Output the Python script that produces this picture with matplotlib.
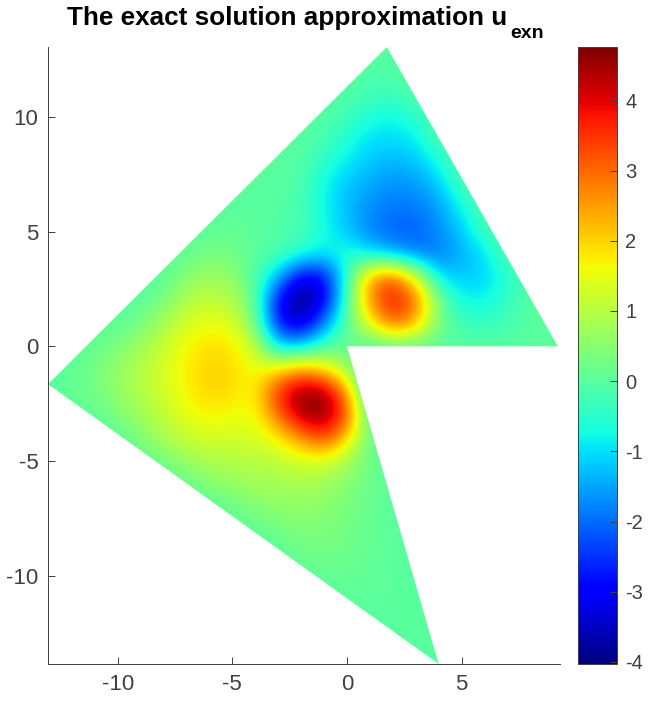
import matplotlib
matplotlib.use('Agg')
import matplotlib.pyplot as plt
import numpy as np
from matplotlib.patches import Polygon

plt.rcParams['font.family'] = ['Liberation Sans', 'DejaVu Sans']
plt.rcParams['axes.unicode_minus'] = False

# domain corners
poly_x = [1.74, 9.2, 0.0, 4.0, -13.04]
poly_y = [13.05, 0.0, 0.0, -13.85, -1.65]

# values on a 1x1 grid
grid_x = np.arange(-13, 10)
grid_y = np.arange(13, -15, -1)
u = [
    #-13  -12  -11  -10   -9   -8   -7   -6   -5   -4   -3   -2   -1    0    1    2    3    4    5    6    7    8    9
    [0.0, 0.0, 0.0, 0.0, 0.0, 0.0, 0.0, 0.0, 0.0, 0.0, 0.0, 0.0, 0.0, 0.0, 0.0, 0.0, 0.0, 0.0, 0.0, 0.0, 0.0, 0.0, 0.0],
    [0.0, 0.0, 0.0, 0.0, 0.0, 0.0, 0.0, 0.0, 0.0, 0.0, 0.0, 0.0, 0.0, 0.0, -.05, -.1, 0.0, 0.0, 0.0, 0.0, 0.0, 0.0, 0.0],
    [0.0, 0.0, 0.0, 0.0, 0.0, 0.0, 0.0, 0.0, 0.0, 0.0, 0.0, 0.0, 0.0, -.05, -.25, -.3, 0.0, 0.0, 0.0, 0.0, 0.0, 0.0, 0.0],
    [0.0, 0.0, 0.0, 0.0, 0.0, 0.0, 0.0, 0.0, 0.0, 0.0, 0.0, 0.0, 0.0, -.3, -.6, -.8, -.5, 0.0, 0.0, 0.0, 0.0, 0.0, 0.0],
    [0.0, 0.0, 0.0, 0.0, 0.0, 0.0, 0.0, 0.0, 0.0, 0.0, 0.0, 0.0, -.2, -.6, -1.0, -1.0, -.9, -.1, 0.0, 0.0, 0.0, 0.0, 0.0],
    [0.0, 0.0, 0.0, 0.0, 0.0, 0.0, 0.0, 0.0, 0.0, 0.0, 0.0, -.05, -.5, -.9, -1.2, -1.35, -1.25, -.7, 0.0, 0.0, 0.0, 0.0, 0.0],
    [0.0, 0.0, 0.0, 0.0, 0.0, 0.0, 0.0, 0.0, 0.0, 0.0, 0.0, -.1, -.8, -1.2, -1.5, -1.7, -1.6, -1.2, -.2, 0.0, 0.0, 0.0, 0.0],
    [0.0, 0.0, 0.0, 0.0, 0.0, 0.0, 0.0, 0.0, 0.0, 0.0, -.05, -.2, -.75, -1.3, -1.7, -1.9, -1.9, -1.6, -.8, 0.0, 0.0, 0.0, 0.0],
    [0.0, 0.0, 0.0, 0.0, 0.0, 0.0, 0.0, 0.05, .1, 0.0, -.1, -.2, -.7, -1.2, -1.8, -2.1, -2.1, -1.7, -1.2, -.3, 0.0, 0.0, 0.0],
    [0.0, 0.0, 0.0, 0.0, 0.0, 0.0, .1, .3, .3, 0.0, -.1, -.5, -.9, -.5, -1.0, -1.4, -1.9, -1.9, -1.4, -1.0, 0.0, 0.0, 0.0],
    [0.0, 0.0, 0.0, 0.0, 0.0, 0.0, .5, .75, .6, -.1, -1.3, -3.2, -3.0, -.5, 2.5, 3.2, 1.5, -1.0, -1.2, -1.1, -.6, 0.0, 0.0],
    [0.0, 0.0, 0.0, 0.0, 0.0, .3, .95, 1.1, .9, .2, -3.0, -4.2, -3.3, -.2, 2.7, 3.9, 3.0, .3, -.8, -.8, -.4, 0.0, 0.0],
    [0.0, 0.0, 0.0, 0.0, .3, .8, 1.3, 1.55, 1.4, .3, -2.8, -3.6, -1.8, 0.0, 1.6, 3.2, 2.4, .3, -.3, -.4, -.25, 0.0, 0.0],
    [0.0, 0.0, .1, .4, .7, 1.2, 1.65, 1.9, 1.8, 1.2, -1.2, -1.1, -.3, .2, -.2, 0.0, 0.0, 0.0, 0.0, 0.0, 0.0, 0.0, 0.0],
    [0.0, .05, .3, .6, 1.0, 1.3, 1.75, 2.0, 1.95, 1.5, 1.8, 2.4, 1.9, .7, -.5, 0.0, 0.0, 0.0, 0.0, 0.0, 0.0, 0.0, 0.0],
    [0.0, .1, .3, .6, .95, 1.25, 1.7, 2.0, 1.9, 1.6, 3.6, 4.7, 4.6, 2.6, -1.0, 0.0, 0.0, 0.0, 0.0, 0.0, 0.0, 0.0, 0.0],
    [0.0, 0.0, .05, .4, .75, 1.1, 1.5, 1.7, 1.6, 1.5, 3.0, 4.5, 4.7, 3.4, -.3, 0.0, 0.0, 0.0, 0.0, 0.0, 0.0, 0.0, 0.0],
    [0.0, 0.0, 0.0, 0.0, .45, .85, 1.15, 1.3, 1.3, 1.3, 1.7, 2.6, 3.5, 2.0, .1, 0.0, 0.0, 0.0, 0.0, 0.0, 0.0, 0.0, 0.0],
    [0.0, 0.0, 0.0, 0.0, 0.0, .3, .7, .9, .95, 1.0, 1.05, 1.3, 1.3, .8, .2, 0.0, 0.0, 0.0, 0.0, 0.0, 0.0, 0.0, 0.0],
    [0.0, 0.0, 0.0, 0.0, 0.0, 0.0, .15, .45, .65, .75, .8, .85, .75, .5, .2, 0.0, 0.0, 0.0, 0.0, 0.0, 0.0, 0.0, 0.0],
    [0.0, 0.0, 0.0, 0.0, 0.0, 0.0, 0.0, 0.0, .2, .45, .55, .6, .5, .35, .15, 0.0, 0.0, 0.0, 0.0, 0.0, 0.0, 0.0, 0.0],
    [0.0, 0.0, 0.0, 0.0, 0.0, 0.0, 0.0, 0.0, 0.0, .05, .3, .4, .4, .3, .12, .02, 0.0, 0.0, 0.0, 0.0, 0.0, 0.0, 0.0],
    [0.0, 0.0, 0.0, 0.0, 0.0, 0.0, 0.0, 0.0, 0.0, 0.0, 0.0, .2, .3, .2, .1, .02, 0.0, 0.0, 0.0, 0.0, 0.0, 0.0, 0.0],
    [0.0, 0.0, 0.0, 0.0, 0.0, 0.0, 0.0, 0.0, 0.0, 0.0, 0.0, 0.0, .1, .12, .07, .02, 0.0, 0.0, 0.0, 0.0, 0.0, 0.0, 0.0],
    [0.0, 0.0, 0.0, 0.0, 0.0, 0.0, 0.0, 0.0, 0.0, 0.0, 0.0, 0.0, 0.0, .02, .04, .02, 0.0, 0.0, 0.0, 0.0, 0.0, 0.0, 0.0],
    [0.0, 0.0, 0.0, 0.0, 0.0, 0.0, 0.0, 0.0, 0.0, 0.0, 0.0, 0.0, 0.0, 0.0, 0.0, 0.0, 0.0, 0.0, 0.0, 0.0, 0.0, 0.0, 0.0],
    [0.0, 0.0, 0.0, 0.0, 0.0, 0.0, 0.0, 0.0, 0.0, 0.0, 0.0, 0.0, 0.0, 0.0, 0.0, 0.0, 0.0, 0.0, 0.0, 0.0, 0.0, 0.0, 0.0],
    [0.0, 0.0, 0.0, 0.0, 0.0, 0.0, 0.0, 0.0, 0.0, 0.0, 0.0, 0.0, 0.0, 0.0, 0.0, 0.0, 0.0, 0.0, 0.0, 0.0, 0.0, 0.0, 0.0],
]
u_min, u_max = -4.03, 4.76
x_ticks = [-10, -5, 0, 5]
y_ticks = [-10, -5, 0, 5, 10]
c_ticks = [-4, -3, -2, -1, 0, 1, 2, 3, 4]
grey = '#404040'

W, H = 652, 706
fig = plt.figure(figsize=(W / 100, H / 100), dpi=100)
ax = fig.add_axes([48 / W, 1 - 664 / H, 512 / W, 617 / H])
cax = fig.add_axes([578 / W, 1 - 664 / H, 39 / W, 617 / H])

im = ax.imshow(np.array(u), cmap='jet', vmin=u_min, vmax=u_max,
               extent=(grid_x[0] - .5, grid_x[-1] + .5, grid_y[-1] - .5, grid_y[0] + .5),
               interpolation='bicubic', interpolation_stage='data', aspect='auto')
clip = Polygon(np.column_stack([poly_x, poly_y]), closed=True, transform=ax.transData)
im.set_clip_path(clip)

ax.set_xlim(-13.04, 9.29)
ax.set_ylim(-13.85, 13.05)
ax.set_xticks(x_ticks)
ax.set_yticks(y_ticks)
ax.spines['top'].set_visible(False)
ax.spines['right'].set_visible(False)
for s in ['left', 'bottom']:
    ax.spines[s].set_color(grey)
    ax.spines[s].set_linewidth(0.7)
ax.tick_params(direction='in', length=5, width=0.7, colors=grey, labelsize=16, pad=7)

cb = fig.colorbar(im, cax=cax)
cb.set_ticks(c_ticks)
cb.outline.set_edgecolor(grey)
cb.outline.set_linewidth(0.7)
cax.tick_params(direction='in', length=5, width=0.7, colors=grey, labelsize=14.5, pad=6)
cax.set_yticklabels([str(t) for t in c_ticks])

# title and its lowered subscript
fig.text(67 / W, 1 - 25 / H, 'The exact solution approximation u',
         ha='left', va='baseline', fontsize=18.85, fontweight='bold', color='black')
fig.text(510 / W, 1 - 38 / H, 'exn',
         ha='left', va='baseline', fontsize=14, fontweight='bold', color='black')

fig.savefig('out.png', dpi=100)
